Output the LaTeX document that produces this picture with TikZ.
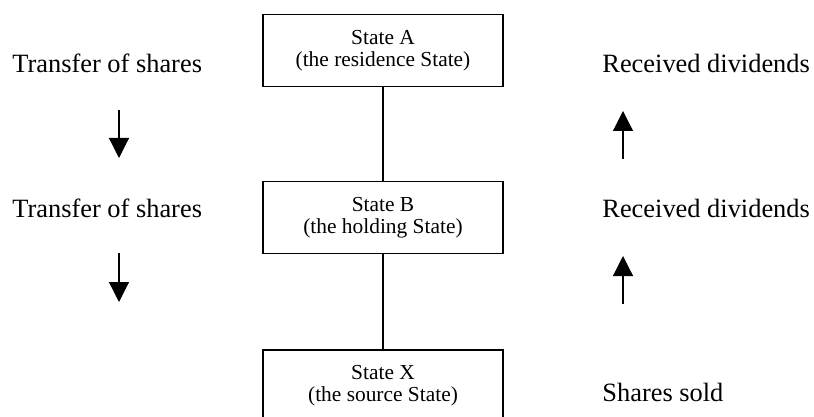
\documentclass[tikz,border=0pt]{standalone}
\usepackage{fontspec}
\setmainfont{Liberation Serif}
\usetikzlibrary{arrows.meta}

\begin{document}
\begin{tikzpicture}[x=0.5pt,y=-0.5pt,
        statebox/.style={draw,line width=0.6pt,minimum width=120pt,minimum height=36pt,
            inner sep=0pt,align=center,font=\fontsize{10.7}{11}\selectfont},
        sidetext/.style={anchor=base west,inner sep=0pt,font=\fontsize{13.2}{15}\selectfont},
        flow/.style={line width=0.6pt,-{Triangle[length=10pt,width=10pt]}}]
            \clip (0,0) rectangle (814,417);

            % 三个国家的方框
            \node[statebox] (stateA) at (383,50.5) {State A\\(the residence State)};
            \node[statebox] (stateB) at (383,217.5) {State B\\(the holding State)};
            \node[statebox] (stateX) at (383,386) {State X\\(the source State)};

            \draw[line width=0.6pt] (stateA) -- (stateB);
            \draw[line width=0.6pt] (stateB) -- (stateX);

            % 左边: 股份转让
            \node[sidetext] (transA) at (12,73) {Transfer of shares};
            \node[sidetext] (transB) at (12,217) {Transfer of shares};

            % 右边: 股息
            \node[sidetext] (divA) at (602,73) {Received dividends};
            \node[sidetext] (divB) at (602,217) {Received dividends};
            \node[sidetext] (sold) at (602,401) {Shares sold};

            % 箭头的端点
            \coordinate (downA1) at (119,110);
            \coordinate (downA2) at (119,158);
            \coordinate (downB1) at (119,253);
            \coordinate (downB2) at (119,302);
            \coordinate (upA1) at (623,159);
            \coordinate (upA2) at (623,111);
            \coordinate (upB1) at (623,304);
            \coordinate (upB2) at (623,256);

            \draw[flow] (downA1) -- (downA2);
            \draw[flow] (downB1) -- (downB2);
            \draw[flow] (upA1) -- (upA2);
            \draw[flow] (upB1) -- (upB2);
\end{tikzpicture}
\end{document}
